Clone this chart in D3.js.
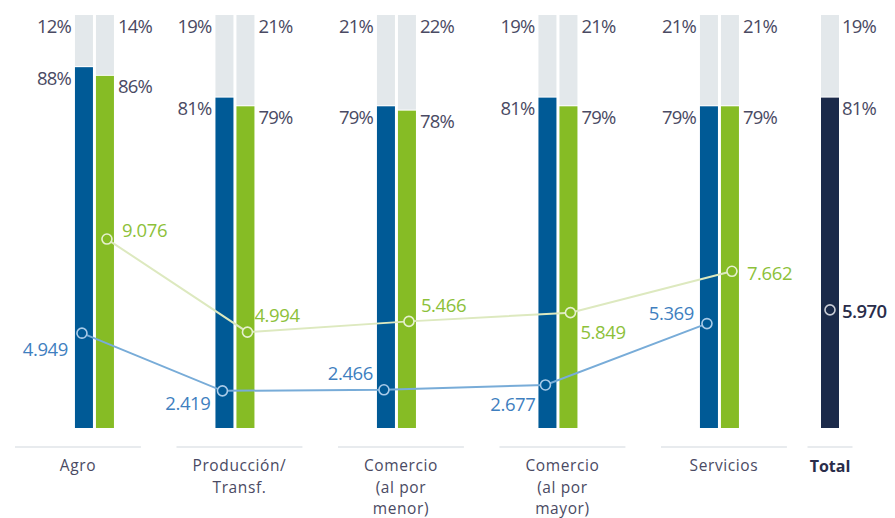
<!DOCTYPE html>
<html>
<head>
<meta charset="utf-8">
<script src="https://cdn.jsdelivr.net/npm/d3@7"></script>
<style>
  body { margin: 0; background: #fff; }
  text { font-family: "Open Sans", "Lato", sans-serif; }
</style>
</head>
<body>
<div id="chart"></div>
<script>
// data
var categories = ["Agro", "Producción/\nTransf.", "Comercio\n(al por\nmenor)", "Comercio\n(al por\nmayor)", "Servicios"];
var pctBlue = [88, 81, 79, 81, 79];
var pctGreen = [86, 79, 78, 79, 79];
var valBlue = [4.949, 2.419, 2.466, 2.677, 5.369];
var valGreen = [9.076, 4.994, 5.466, 5.849, 7.662];
var totalLabel = "Total";
var pctTotal = 81;
var valTotal = 5.970;

// label placement for the value labels [dx, dy, anchor]
var posBlue = [[-14, 16, "end"], [-12, 13, "end"], [-11, -16, "end"], [-10, 20, "end"], [-13, -10, "end"]];
var posGreen = [[15, -9, "start"], [7, -17, "start"], [12, -16, "start"], [10, 20, "start"], [15, 2, "start"]];

var width = 895, height = 518;
var barTop = 15, barBottom = 428;
var barW = 18, gap = 3;

var cBlue = "#005a96", cGreen = "#86bc25", cGray = "#e3e8eb", cNavy = "#1b2a4a";
var cText = "#4a4a63";

var fmt = function(v) { return d3.format(".3f")(v); };
var pctFmt = function(v) { return v + "%"; };

var svg = d3.select("#chart").append("svg")
    .attr("width", width)
    .attr("height", height);

// x for the category bands
var x = d3.scaleBand()
    .domain(categories)
    .range([-2.8, 804.7])
    .paddingInner(0.22)
    .paddingOuter(0.11);

// bar group centre (Agro group sits further right in the original)
function center(i) {
  var c = x(categories[i]) + x.bandwidth() / 2 - 4.5;
  if (i === 0) c += 21;
  return c;
}
var totalCenter = 830;

var yPct = d3.scaleLinear().domain([5, 100]).range([barBottom, barTop]);
var yVal = d3.scaleLinear().domain([0, 10]).range([446, 218]);

var gBars = svg.append("g");

function drawBar(xPos, pct, color) {
  gBars.append("rect")
    .attr("x", xPos).attr("y", yPct(100))
    .attr("width", barW).attr("height", yPct(pct) - yPct(100) - 1)
    .attr("fill", cGray);
  gBars.append("rect")
    .attr("x", xPos).attr("y", yPct(pct))
    .attr("width", barW).attr("height", barBottom - yPct(pct))
    .attr("fill", color);
}

function pctText(xPos, y, txt, anchor) {
  svg.append("text")
    .attr("x", xPos).attr("y", y)
    .attr("dy", "0.35em")
    .attr("text-anchor", anchor)
    .attr("fill", cText)
    .style("font-size", "18.5px")
    .style("letter-spacing", "-0.8px")
    .text(txt);
}

categories.forEach(function(cat, i) {
  var c = center(i);
  var xb = c - barW - gap / 2, xg = c + gap / 2;
  drawBar(xb, pctBlue[i], cBlue);
  drawBar(xg, pctGreen[i], cGreen);
  pctText(xb - 4, yPct(100) + 12, pctFmt(100 - pctBlue[i]), "end");
  pctText(xb - 4, yPct(pctBlue[i]) + 11, pctFmt(pctBlue[i]), "end");
  pctText(xg + barW + 4, yPct(100) + 12, pctFmt(100 - pctGreen[i]), "start");
  pctText(xg + barW + 4, yPct(pctGreen[i]) + 11, pctFmt(pctGreen[i]), "start");
});

// total bar
var xt = totalCenter - barW / 2;
drawBar(xt, pctTotal, cNavy);
pctText(xt + barW + 3, yPct(100) + 12, pctFmt(100 - pctTotal), "start");
pctText(xt + barW + 3, yPct(pctTotal) + 11, pctFmt(pctTotal), "start");

// lines
var blueX = function(i) { return center(i) - barW / 2 - gap / 2 - 2; };
var greenX = function(i) { return center(i) + barW / 2 + gap / 2 + 2; };

var line = d3.line().x(function(d) { return d[0]; }).y(function(d) { return d[1]; });

var bluePts = valBlue.map(function(v, i) { return [blueX(i), yVal(v)]; });
var greenPts = valGreen.map(function(v, i) { return [greenX(i), yVal(v)]; });

svg.append("path").attr("d", line(greenPts))
    .attr("fill", "none").attr("stroke", "#dde9bf").attr("stroke-width", 2);
svg.append("path").attr("d", line(bluePts))
    .attr("fill", "none").attr("stroke", "#78acd8").attr("stroke-width", 2);

function dots(pts, fill, stroke) {
  svg.append("g").selectAll("circle")
    .data(pts)
    .enter().append("circle")
      .attr("cx", function(d) { return d[0]; })
      .attr("cy", function(d) { return d[1]; })
      .attr("r", 5)
      .attr("fill", fill)
      .attr("stroke", stroke)
      .attr("stroke-width", 1.6);
}
dots(greenPts, cGreen, "#e6f0cf");
dots(bluePts, cBlue, "#a9cbe8");
dots([[totalCenter, yVal(valTotal)]], cNavy, "#c9ccd6");

function valLabels(pts, vals, pos, color) {
  svg.append("g").selectAll("text")
    .data(pts)
    .enter().append("text")
      .attr("x", function(d, i) { return d[0] + pos[i][0]; })
      .attr("y", function(d, i) { return d[1] + pos[i][1]; })
      .attr("dy", "0.35em")
      .attr("text-anchor", function(d, i) { return pos[i][2]; })
      .attr("fill", color)
      .style("font-size", "18.5px")
      .style("letter-spacing", "-0.4px")
      .text(function(d, i) { return fmt(vals[i]); });
}
valLabels(bluePts, valBlue, posBlue, "#3f7fbf");
valLabels(greenPts, valGreen, posGreen, "#8dc13a");

svg.append("text")
    .attr("x", totalCenter + 12).attr("y", yVal(valTotal) + 2)
    .attr("dy", "0.35em")
    .attr("fill", "#2a2d4a")
    .style("font-size", "18.5px")
    .style("font-weight", "600")
    .style("letter-spacing", "-0.6px")
    .text(fmt(valTotal));

// category axis: underline + labels
var axisY = 447;
categories.forEach(function(cat, i) {
  var x0 = x(cat), cx = x0 + x.bandwidth() / 2;
  svg.append("line")
    .attr("x1", x0).attr("x2", x0 + x.bandwidth())
    .attr("y1", axisY).attr("y2", axisY)
    .attr("stroke", "#e1e5e8").attr("stroke-width", 1.5);
  var t = svg.append("text")
    .attr("text-anchor", "middle")
    .attr("fill", cText)
    .style("font-size", "15.5px")
    .style("letter-spacing", "0.6px");
  cat.split("\n").forEach(function(s, j) {
    t.append("tspan").attr("x", cx).attr("y", axisY + 19 + j * 21.2)
      .attr("dy", "0.35em").text(s);
  });
});

svg.append("line")
    .attr("x1", totalCenter - 22.5).attr("x2", totalCenter + 22.5)
    .attr("y1", axisY).attr("y2", axisY)
    .attr("stroke", "#e1e5e8").attr("stroke-width", 1.5);
svg.append("text")
    .attr("x", totalCenter).attr("y", axisY + 19)
    .attr("dy", "0.35em")
    .attr("text-anchor", "middle")
    .attr("fill", "#2a2d4a")
    .style("font-size", "16px")
    .style("font-weight", "700")
    .text(totalLabel);
</script>
</body>
</html>
